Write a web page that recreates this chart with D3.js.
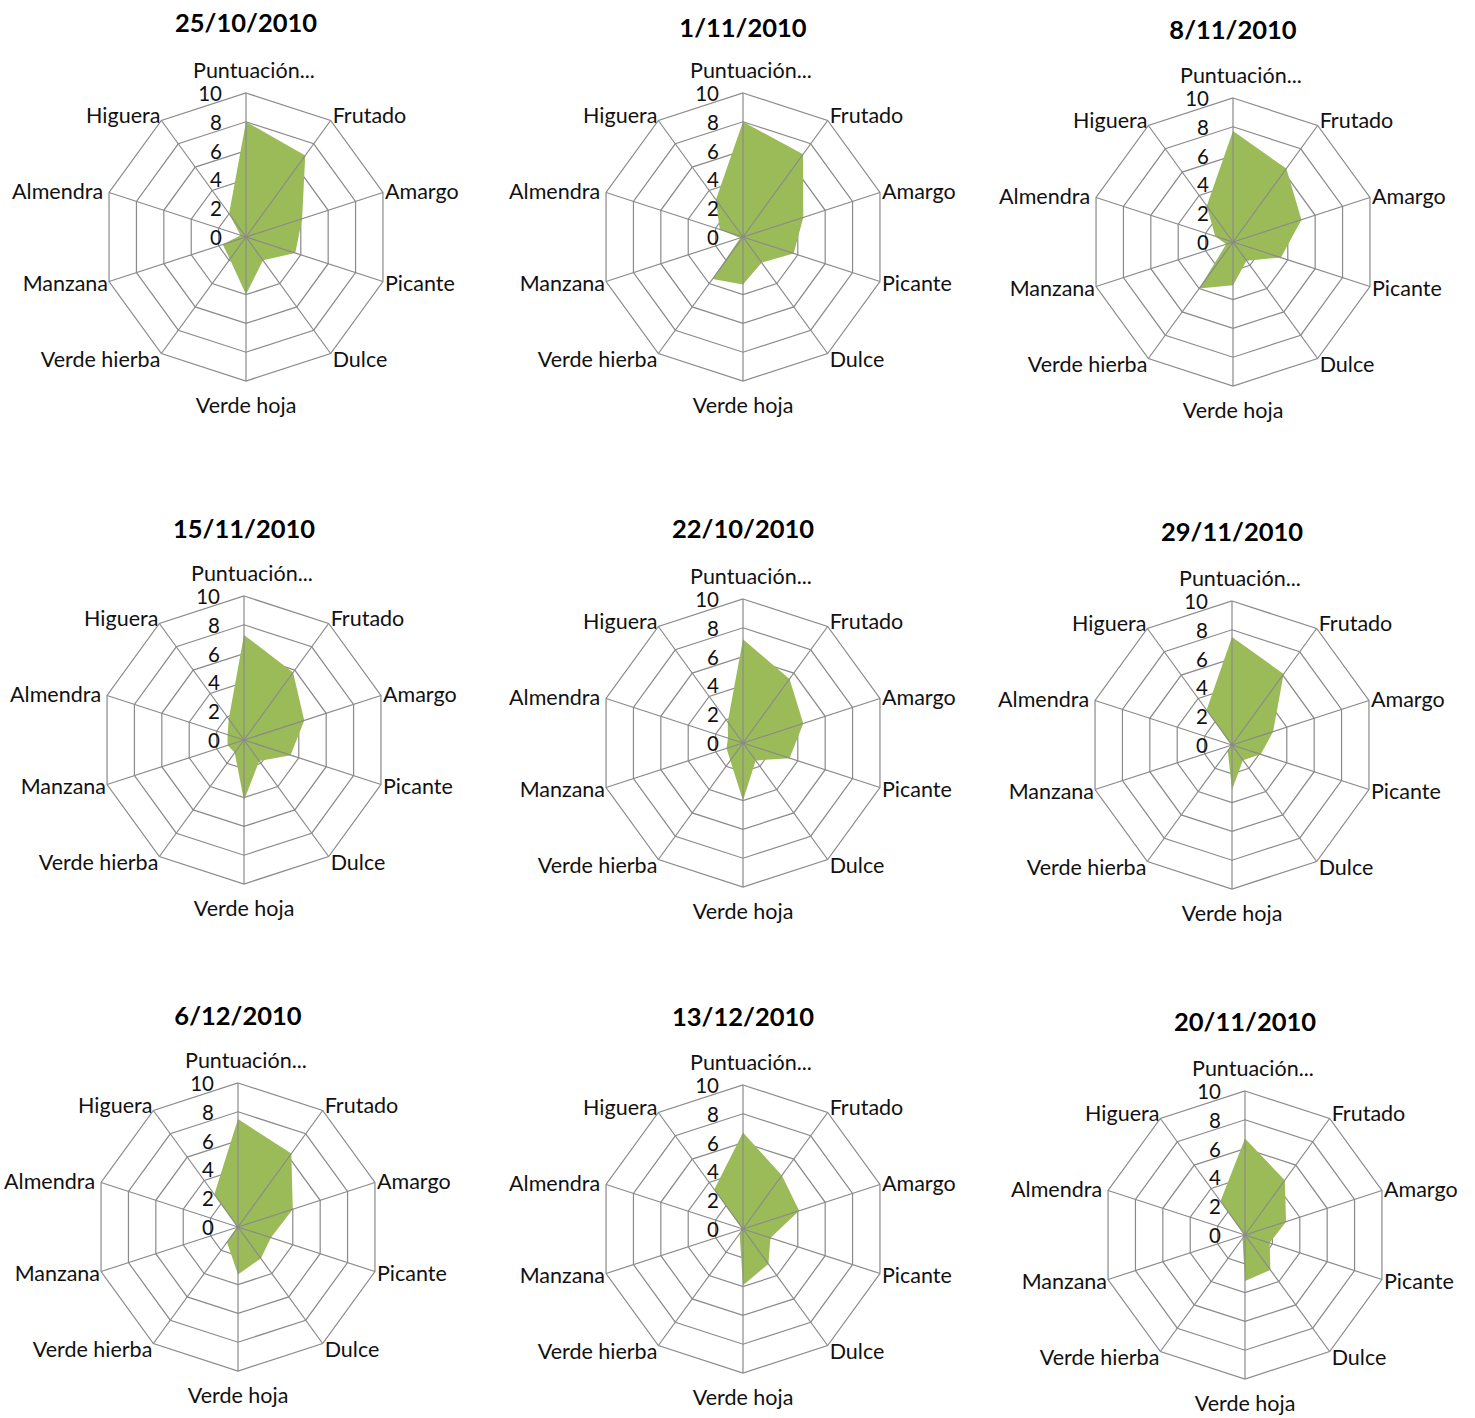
<!DOCTYPE html>
<html>
<head>
<meta charset="utf-8">
<script src="https://cdn.jsdelivr.net/npm/d3@7"></script>
<style>
  html, body { margin: 0; padding: 0; background: #ffffff; }
  svg { display: block; }
  text { font-family: Lato, "Open Sans", sans-serif; fill: #111; }
</style>
</head>
<body>
<script>
// Sensory attributes (radar axes), clockwise from the top
const attributes = ["Puntuación...", "Frutado", "Amargo", "Picante", "Dulce",
                    "Verde hoja", "Verde hierba", "Manzana", "Almendra", "Higuera"];

// Scale ticks on the radial axis
const tickValues = [0, 2, 4, 6, 8, 10];

// Tasting dates (one radar per date)
const dates = ["25/10/2010", "1/11/2010", "8/11/2010",
               "15/11/2010", "22/10/2010", "29/11/2010",
               "6/12/2010", "13/12/2010", "20/11/2010"];

// Panel scores, in attribute order
const scores_25_10 = [8.0, 7.0, 4.1, 3.6, 2.0, 4.0, 1.9, 1.7, 0.4, 2.0];
const scores_01_11 = [8.0, 7.1, 4.4, 3.7, 2.2, 3.3, 3.6, 0.2, 1.7, 3.2];
const scores_08_11 = [7.7, 6.3, 5.0, 3.5, 1.6, 3.0, 4.0, 0.5, 1.3, 3.1];
const scores_15_11 = [7.3, 5.8, 4.4, 3.4, 1.8, 4.2, 1.1, 1.2, 1.2, 1.8];
const scores_22_10 = [7.2, 5.5, 4.4, 3.4, 1.5, 4.0, 1.5, 1.2, 1.1, 1.8];
const scores_29_11 = [7.5, 6.1, 3.0, 2.1, 1.3, 3.1, 0.5, 0.1, 0.1, 3.0];
const scores_06_12 = [7.5, 6.3, 4.0, 2.4, 2.7, 3.3, 1.3, 0.1, 0.1, 2.8];
const scores_13_12 = [6.7, 4.6, 4.1, 2.0, 3.0, 3.9, 0.4, 0.1, 0.1, 3.4];
const scores_20_11 = [6.7, 4.7, 3.0, 1.8, 3.0, 3.2, 0.3, 0.1, 0.1, 2.9];

const seriesByDate = [scores_25_10, scores_01_11, scores_08_11,
                      scores_15_11, scores_22_10, scores_29_11,
                      scores_06_12, scores_13_12, scores_20_11];

// Panel layout: radar centre and title height for each panel
const panels = [
  { cx: 246,  cy: 237,  ty: 22 },
  { cx: 743,  cy: 237,  ty: 27 },
  { cx: 1233, cy: 242,  ty: 29 },
  { cx: 244,  cy: 740,  ty: 528 },
  { cx: 743,  cy: 743,  ty: 528 },
  { cx: 1232, cy: 745,  ty: 531 },
  { cx: 238,  cy: 1227, ty: 1015 },
  { cx: 743,  cy: 1229, ty: 1016 },
  { cx: 1245, cy: 1235, ty: 1021 }
];

const W = 1475, H = 1418, R = 144;
const gridColor = "#8a8a8a";
const fillColor = "#9bbb59";
const labelSize = "21.5px";

const svg = d3.select("body").append("svg")
  .attr("width", W).attr("height", H)
  .attr("viewBox", `0 0 ${W} ${H}`);

const angle = d3.scalePoint()
  .domain(attributes)
  .range([0, 2 * Math.PI * (attributes.length - 1) / attributes.length]);
const radius = d3.scaleLinear().domain([0, 10]).range([0, R]);

const pt = (a, r) => [r * Math.sin(a), -r * Math.cos(a)];

const ring = d3.lineRadial()
  .angle(d => angle(d.key))
  .radius(d => radius(d.value))
  .curve(d3.curveLinearClosed);

panels.forEach((p, i) => {
  const g = svg.append("g").attr("transform", `translate(${p.cx},${p.cy})`);

  // Title
  svg.append("text")
    .attr("x", p.cx).attr("y", p.ty)
    .attr("text-anchor", "middle")
    .attr("dominant-baseline", "central")
    .style("font-size", "25.5px").style("font-weight", "700")
    .style("fill", "#000")
    .text(dates[i]);

  // Concentric decagon rings
  g.selectAll("path.ring")
    .data(tickValues.filter(t => t > 0))
    .join("path")
    .attr("class", "ring")
    .attr("d", t => ring(attributes.map(k => ({ key: k, value: t }))))
    .attr("fill", "none")
    .attr("stroke", gridColor)
    .attr("stroke-width", 1.2);

  // Data polygon
  const data = attributes.map((k, j) => ({ key: k, value: seriesByDate[i][j] }));
  g.append("path")
    .attr("d", ring(data))
    .attr("fill", fillColor)
    .attr("stroke", "none");

  // Spokes
  g.selectAll("line.spoke")
    .data(attributes)
    .join("line")
    .attr("class", "spoke")
    .attr("x1", 0).attr("y1", 0)
    .attr("x2", k => pt(angle(k), R)[0])
    .attr("y2", k => pt(angle(k), R)[1])
    .attr("stroke", gridColor)
    .attr("stroke-width", 1.2);

  // Radial tick labels along the top spoke
  g.selectAll("text.tick")
    .data(tickValues)
    .join("text")
    .attr("class", "tick")
    .attr("x", -24)
    .attr("y", t => -radius(t))
    .attr("text-anchor", "end")
    .attr("dominant-baseline", "central")
    .style("font-size", "20.5px")
    .text(t => t);

  // Attribute labels outside each vertex
  attributes.forEach(k => {
    const a = angle(k);
    const [vx, vy] = pt(a, R);
    const s = Math.sin(a), c = Math.cos(a);
    let x = vx, y = vy, anchor = "middle";
    if (Math.abs(s) < 0.01) {
      x = vx + (c > 0 ? 8 : 0);
      y = vy + (c > 0 ? -23 : 24);
    } else {
      anchor = s > 0 ? "start" : "end";
      x = vx + (s > 0 ? 2 : (k === "Almendra" ? -6 : -1));
      y = vy + (Math.abs(c) > 0.5 ? (c > 0 ? -6 : 6) : (c > 0 ? -2 : 2));
    }
    g.append("text")
      .attr("x", x).attr("y", y)
      .attr("text-anchor", anchor)
      .attr("dominant-baseline", "central")
      .style("font-size", labelSize)
      .text(k);
  });
});
</script>
</body>
</html>
